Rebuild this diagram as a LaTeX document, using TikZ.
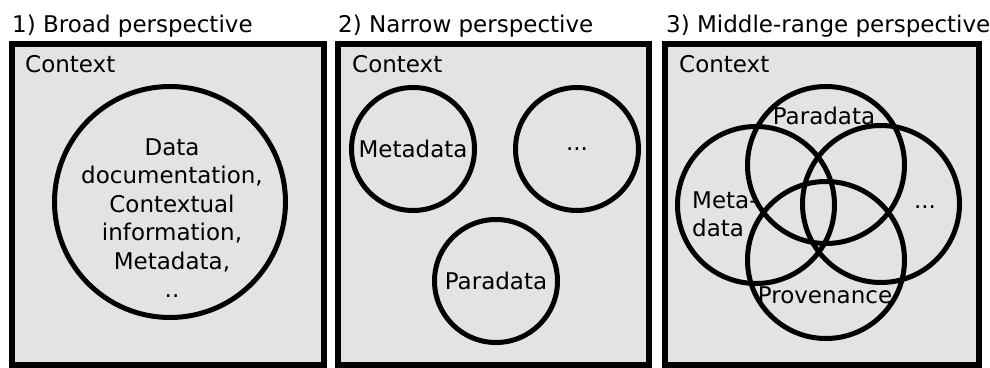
\documentclass[tikz,border=0pt]{standalone}
\usepackage{fontspec}
\setmainfont{DejaVu Sans}
\usetikzlibrary{positioning}

\begin{document}
\begin{tikzpicture}[x=1pt, y=-1pt,
    panel/.style={draw, line width=6pt, fill=black!11},
    ring/.style={circle, draw, line width=5pt, inner sep=0pt},
    lbl/.style={inner sep=0pt, font=\fontsize{23}{28.5}\selectfont}]
    \useasboundingbox (0,0) rectangle (990,367);

    % Broad perspective
    \node[lbl, anchor=base west] (title1) at (12,32) {1) Broad perspective};
    \draw[panel] (12,44) rectangle (324,365);
    \node[lbl, anchor=base west] (ctx1) at (25,72) {Context};
    \node[ring, minimum size=231pt] (all) at (170,202) {};
    \node[lbl, align=center, anchor=north] (alltxt) at (172,138.2)
        {Data\\documentation,\\Contextual\\information,\\Metadata,\\..};

    % Narrow perspective
    \node[lbl, anchor=base west] (title2) at (338,32) {2) Narrow perspective};
    \draw[panel] (338,44) rectangle (649,365);
    \node[lbl, anchor=base west] (ctx2) at (352,72) {Context};
    \node[ring, lbl, minimum size=123pt] (meta2) at (413,149) {Metadata};
    \node[ring, lbl, minimum size=123pt] (dots2) at (577,149) {...};
    \node[ring, lbl, minimum size=123pt] (para2) at (496,281) {Paradata};

    % Middle-range perspective
    \node[lbl, anchor=base west] (title3) at (666,32) {3) Middle-range perspective};
    \draw[panel] (665,44) rectangle (979,365);
    \node[lbl, anchor=base west] (ctx3) at (679,72) {Context};
    \node[ring, minimum size=157pt] (para3) at (826,165) {};
    \node[ring, minimum size=157pt] (meta3) at (756,205) {};
    \node[ring, minimum size=157pt] (dots3) at (881,204) {};
    \node[ring, minimum size=157pt] (prov3) at (826,260) {};
    \node[lbl] (paratxt) at (824,116) {Paradata};
    \node[lbl, align=left, anchor=north west] (metatxt) at (692,191.2) {Meta-\\data};
    \node[lbl] (dotstxt) at (925,207) {...};
    \node[lbl] (provtxt) at (825,295) {Provenance};
\end{tikzpicture}
\end{document}
